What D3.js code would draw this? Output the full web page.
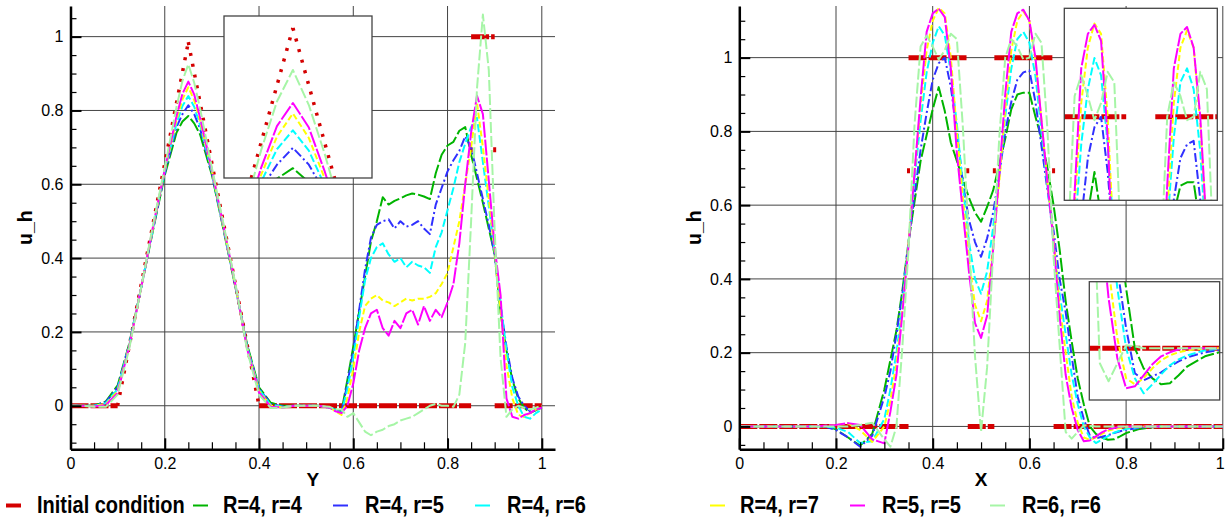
<!DOCTYPE html>
<html>
<head>
<meta charset="utf-8">
<script src="https://cdnjs.cloudflare.com/ajax/libs/d3/7.8.5/d3.min.js"></script>
<style>
  body { margin: 0; background: #fff; }
  svg { display: block; font-family: "Liberation Sans", Arial, sans-serif; }
</style>
</head>
<body>
<svg width="1226" height="523"></svg>
<script>
const svg = d3.select("svg");

// ---------- data ----------
const names = ["Initial condition", "R=4, r=4", "R=4, r=5", "R=4, r=6", "R=4, r=7", "R=5, r=5", "R=6, r=6"];
const colors = ["#d40000", "#00b400", "#3030ff", "#00ffff", "#ffff00", "#ff00ff", "#a6f5a6"];
const dashes = [null, "14 3", "9 3 2 3", "8 3", "6 3", "16 2", "11 3"];

const xTicks = [0, 0.2, 0.4, 0.6, 0.8, 1];
const yTicks = [0, 0.2, 0.4, 0.6, 0.8, 1];

// left panel (Y)
const leftX = [0, 0.025, 0.05, 0.075, 0.1, 0.125, 0.15, 0.175, 0.2, 0.225, 0.2375, 0.25, 0.2625, 0.275, 0.3, 0.325, 0.35, 0.375, 0.4, 0.425, 0.45, 0.475, 0.5, 0.525,
  0.55, 0.5625, 0.575, 0.5875, 0.6, 0.6125, 0.625, 0.6375, 0.65, 0.6625, 0.675, 0.6875, 0.7, 0.7125, 0.725, 0.7375, 0.75, 0.7625, 0.775, 0.7875, 0.8, 0.8125, 0.825, 0.8375, 0.85, 0.8625, 0.875, 0.8875, 0.9, 0.9125, 0.925, 0.9375, 0.95, 0.9625, 0.975, 0.9875, 1];
const leftR4r4 = [0, 0, 0, 0.012, 0.055, 0.17, 0.32, 0.475, 0.625, 0.74, 0.77, 0.785, 0.765, 0.735, 0.625, 0.475, 0.32, 0.165, 0.05, 0.008, 0, 0, 0, 0,
  -0.005, -0.01, -0.015, 0.07, 0.16, 0.255, 0.35, 0.445, 0.50, 0.565, 0.545, 0.555, 0.562, 0.57, 0.575, 0.572, 0.567, 0.56, 0.63, 0.68, 0.705, 0.715, 0.745, 0.755, 0.68, 0.615, 0.55, 0.48, 0.41, 0.25, 0.15, 0.07, 0.02, -0.005, -0.02, -0.012, -0.005];
const leftR4r5 = [0, 0, 0, 0.01, 0.05, 0.168, 0.32, 0.478, 0.63, 0.755, 0.79, 0.814, 0.79, 0.75, 0.63, 0.478, 0.322, 0.16, 0.047, 0.005, -0.002, 0, 0, 0,
  -0.005, -0.01, -0.018, 0.06, 0.15, 0.26, 0.37, 0.455, 0.49, 0.50, 0.505, 0.48, 0.50, 0.485, 0.49, 0.50, 0.48, 0.465, 0.545, 0.59, 0.635, 0.665, 0.69, 0.73, 0.70, 0.63, 0.56, 0.49, 0.41, 0.27, 0.16, 0.075, 0.025, 0.0, -0.015, -0.012, -0.005];
const leftR4r6 = [0, 0, 0, 0.007, 0.045, 0.166, 0.32, 0.48, 0.635, 0.765, 0.812, 0.839, 0.81, 0.76, 0.635, 0.48, 0.324, 0.158, 0.044, 0.002, -0.003, 0, 0, 0,
  -0.005, -0.012, -0.02, 0.045, 0.13, 0.24, 0.34, 0.40, 0.43, 0.44, 0.41, 0.39, 0.40, 0.375, 0.39, 0.38, 0.375, 0.36, 0.43, 0.47, 0.53, 0.59, 0.66, 0.71, 0.755, 0.78, 0.66, 0.54, 0.42, 0.28, 0.15, 0.05, 0.0, -0.03, -0.035, -0.02, -0.01];
const leftR4r7 = [0, 0, 0, 0.004, 0.04, 0.164, 0.32, 0.482, 0.637, 0.775, 0.83, 0.863, 0.828, 0.77, 0.637, 0.482, 0.325, 0.156, 0.04, 0, -0.004, 0, 0, 0,
  -0.005, -0.015, -0.025, 0.02, 0.10, 0.20, 0.27, 0.29, 0.30, 0.285, 0.28, 0.27, 0.28, 0.29, 0.285, 0.29, 0.29, 0.295, 0.305, 0.33, 0.36, 0.43, 0.50, 0.60, 0.70, 0.82, 0.70, 0.56, 0.42, 0.26, 0.11, 0.02, -0.025, -0.03, -0.02, -0.01, -0.005];
const leftR5r5 = [0, 0, -0.002, 0.002, 0.035, 0.162, 0.32, 0.485, 0.64, 0.785, 0.845, 0.878, 0.843, 0.78, 0.64, 0.485, 0.327, 0.153, 0.036, -0.003, -0.005, 0, 0, 0,
  -0.005, -0.015, -0.02, 0.0, 0.06, 0.15, 0.21, 0.25, 0.26, 0.21, 0.19, 0.23, 0.21, 0.25, 0.26, 0.22, 0.27, 0.23, 0.26, 0.24, 0.28, 0.33, 0.44, 0.60, 0.74, 0.84, 0.79, 0.61, 0.43, 0.30, 0.02, -0.03, -0.035, -0.025, -0.02, -0.01, -0.005];
const leftR6r6 = [0, 0, -0.003, -0.003, 0.03, 0.157, 0.32, 0.49, 0.645, 0.81, 0.88, 0.925, 0.875, 0.805, 0.645, 0.49, 0.33, 0.148, 0.03, -0.006, -0.005, 0, 0, 0,
  -0.003, -0.01, -0.01, -0.03, -0.02, -0.045, -0.07, -0.08, -0.07, -0.065, -0.055, -0.05, -0.04, -0.035, -0.03, -0.02, -0.01, 0.0, 0.005, 0.0, 0.0, -0.003, 0.03, 0.17, 0.50, 0.86, 1.06, 0.91, 0.475, 0.13, -0.03, -0.01, 0.0, -0.005, -0.01, -0.005, 0];
const leftInitX = [0, 0.1, 0.25, 0.4, 0.85, 0.85, 0.9, 0.9, 1];
const leftInitY = [0, 0, 0.985, 0, 0, 1, 1, 0, 0];

// right panel (X)
const rightX = [0, 0.025, 0.05, 0.075, 0.1, 0.125, 0.15, 0.175, 0.2, 0.225, 0.25, 0.275, 0.3,
  0.3125, 0.325, 0.3375, 0.35, 0.3625, 0.375, 0.3875, 0.4, 0.4125, 0.425, 0.4375, 0.45, 0.4625, 0.475, 0.4875, 0.5, 0.5125, 0.525, 0.5375, 0.55, 0.5625, 0.575, 0.5875, 0.6, 0.6125, 0.625, 0.6375, 0.65, 0.6625, 0.675, 0.6875, 0.7, 0.7125, 0.725, 0.7375, 0.75, 0.7625, 0.775, 0.7875, 0.8,
  0.825, 0.85, 0.875, 0.9, 0.925, 0.95, 0.975, 1];
const rightR4r4 = [0, 0, 0, 0, 0, 0, 0, 0.002, -0.008, -0.03, -0.052, -0.02, 0.10,
  0.18, 0.26, 0.37, 0.50, 0.61, 0.72, 0.79, 0.86, 0.92, 0.855, 0.77, 0.72, 0.67, 0.62, 0.58, 0.555, 0.595, 0.64, 0.71, 0.78, 0.86, 0.90, 0.905, 0.905, 0.84, 0.78, 0.70, 0.60, 0.48, 0.34, 0.23, 0.13, 0.06, 0.0, -0.02, -0.03, -0.036, -0.035, -0.027, -0.018,
  -0.008, -0.003, 0, 0, 0, 0, 0, 0];
const rightR4r5 = [0, 0, 0, 0, 0, 0, 0, 0.001, -0.01, -0.03, -0.055, -0.025, 0.08,
  0.15, 0.25, 0.36, 0.50, 0.63, 0.75, 0.85, 0.94, 0.985, 1.0, 0.92, 0.80, 0.66, 0.56, 0.50, 0.46, 0.51, 0.58, 0.68, 0.80, 0.88, 0.94, 0.96, 0.965, 0.88, 0.76, 0.64, 0.53, 0.40, 0.31, 0.19, 0.08, 0.02, -0.025, -0.032, -0.028, -0.024, -0.018, -0.013, -0.009,
  -0.004, -0.001, 0, 0, 0, 0, 0, 0];
const rightR4r6 = [0, 0, 0, 0, 0, 0, 0, 0, -0.003, -0.015, -0.045, -0.04, 0.02,
  0.10, 0.20, 0.33, 0.50, 0.67, 0.83, 0.96, 1.04, 1.085, 1.06, 0.96, 0.82, 0.65, 0.50, 0.40, 0.36, 0.42, 0.54, 0.68, 0.84, 0.97, 1.05, 1.07, 1.04, 0.95, 0.80, 0.65, 0.50, 0.36, 0.25, 0.14, 0.06, 0.0, -0.03, -0.045, -0.036, -0.026, -0.017, -0.011, -0.007,
  -0.002, 0, 0, 0, 0, 0, 0, 0];
const rightR4r7 = [0, 0, 0, 0, 0, 0, 0, 0.001, 0.004, 0.008, -0.01, -0.042, 0.0,
  0.07, 0.17, 0.32, 0.50, 0.69, 0.87, 1.02, 1.10, 1.135, 1.12, 1.0, 0.80, 0.62, 0.45, 0.33, 0.285, 0.34, 0.49, 0.66, 0.86, 1.02, 1.10, 1.125, 1.10, 0.99, 0.83, 0.66, 0.51, 0.33, 0.20, 0.08, 0.01, -0.03, -0.036, -0.03, -0.02, -0.012, -0.007, -0.004, -0.002,
  0, 0, 0, 0, 0, 0, 0, 0];
const rightR5r5 = [0, 0, 0, 0, 0, 0, 0, 0.002, 0.004, 0.009, 0.004, -0.035, -0.046,
  0.04, 0.14, 0.31, 0.49, 0.69, 0.89, 1.07, 1.12, 1.133, 1.11, 0.97, 0.74, 0.58, 0.42, 0.28, 0.24, 0.30, 0.48, 0.68, 0.90, 1.07, 1.12, 1.13, 1.10, 1.0, 0.83, 0.66, 0.50, 0.30, 0.14, 0.05, -0.01, -0.04, -0.038, -0.027, -0.016, -0.008, -0.004, -0.001, 0,
  0, 0, 0, 0, 0, 0, 0, 0];
const rightR6r6 = [0, 0, 0, 0, 0, 0, 0, 0, 0, 0, 0.004, 0.01, -0.035,
  -0.055, 0.0, 0.22, 0.48, 0.82, 1.03, 1.06, 1.03, 0.995, 1.02, 1.065, 1.05, 0.81, 0.50, 0.19, -0.015, 0.16, 0.47, 0.78, 1.0, 1.05, 1.03, 0.995, 1.0, 1.065, 1.04, 0.80, 0.46, 0.22, -0.015, -0.033, -0.015, 0.003, 0.002, 0, 0, 0, 0, 0, 0,
  0, 0, 0, 0, 0, 0, 0, 0];
const rightInitX = [0, 0.35, 0.35, 0.4725, 0.4725, 0.5275, 0.5275, 0.65, 0.65, 1];
const rightInitY = [0, 0, 1, 1, 0, 0, 1, 1, 0, 0];

// ---------- helpers ----------
let clipCount = 0;
const defs = svg.append("defs");
function clipRect(x0, y0, w, h) {
  const id = "clip" + (clipCount++);
  defs.append("clipPath").attr("id", id)
    .append("rect").attr("x", x0).attr("y", y0).attr("width", w).attr("height", h);
  return `url(#${id})`;
}

function drawInit(g, xs, ys, x, y) {
  for (let i = 0; i < xs.length - 1; i++) {
    const x1 = x(xs[i]), y1 = y(ys[i]), x2 = x(xs[i + 1]), y2 = y(ys[i + 1]);
    const seg = g.append("line")
      .attr("x1", x1).attr("y1", y1).attr("x2", x2).attr("y2", y2)
      .attr("stroke", colors[0]);
    if (ys[i] === ys[i + 1]) {
      seg.attr("stroke-width", 5).attr("stroke-dasharray", "18 2");
    } else if (xs[i] === xs[i + 1]) {
      // steep jump: a single short dash
      const len = Math.abs(y2 - y1);
      const top = Math.min(y1, y2), bot = Math.max(y1, y2);
      seg.attr("y1", top).attr("y2", bot)
        .attr("stroke-width", 3)
        .attr("stroke-dasharray", `0 ${len * 0.3} 5 ${len}`);
    } else {
      seg.attr("stroke-width", 3.5).attr("stroke-dasharray", "3 8");
    }
  }
}

function drawSeries(g, xs, series, x, y) {
  const line = d3.line().x(d => x(d[0])).y(d => y(d[1]));
  series.forEach((vals, i) => {
    g.append("path")
      .datum(xs.map((v, k) => [v, vals[k]]))
      .attr("d", line)
      .attr("fill", "none")
      .attr("stroke", colors[i + 1])
      .attr("stroke-width", 2)
      .attr("stroke-linejoin", "round")
      .attr("stroke-dasharray", dashes[i + 1]);
  });
}

function drawPanel(p) {
  const { x, y } = p;
  const [xa, xb] = x.range();
  const [ya, yb] = y.range();
  const g = svg.append("g");

  // grid
  g.append("g").selectAll("line").data(xTicks.slice(1)).join("line")
    .attr("x1", d => x(d)).attr("x2", d => x(d)).attr("y1", ya).attr("y2", yb)
    .attr("stroke", "#444").attr("stroke-width", 1);
  g.append("g").selectAll("line").data(yTicks).join("line")
    .attr("x1", xa).attr("x2", xb).attr("y1", d => y(d)).attr("y2", d => y(d))
    .attr("stroke", "#444").attr("stroke-width", 1);

  // curves
  const lg = g.append("g").attr("clip-path", clipRect(xa, yb, xb - xa, ya - yb));
  drawInit(lg, p.initX, p.initY, x, y);
  drawSeries(lg, p.xs, p.series, x, y);

  // axes
  const fmt = d => String(d);
  const xMinor = d3.range(0, 1.0001, 0.05).filter(v => Math.abs(v * 5 - Math.round(v * 5)) > 1e-6);
  const yMinor = d3.range(-0.15, 1.2, 0.05).map(v => +v.toFixed(2))
    .filter(v => v >= y.domain()[0] && v <= y.domain()[1] && Math.abs(v * 5 - Math.round(v * 5)) > 1e-6);

  const gx = g.append("g").attr("transform", `translate(0,${ya})`);
  gx.call(d3.axisBottom(x).tickValues(xTicks).tickFormat(fmt).tickSizeInner(-11).tickSizeOuter(0).tickPadding(4));
  gx.append("g").call(d3.axisBottom(x).tickValues(xMinor).tickFormat("").tickSizeInner(-7).tickSizeOuter(0))
    .select(".domain").remove();
  const gy = g.append("g").attr("transform", `translate(${xa},0)`);
  gy.call(d3.axisLeft(y).tickValues(yTicks).tickFormat(fmt).tickSizeInner(-11).tickSizeOuter(0).tickPadding(7));
  gy.append("g").call(d3.axisLeft(y).tickValues(yMinor).tickFormat("").tickSizeInner(-6).tickSizeOuter(0))
    .select(".domain").remove();

  [gx, gy].forEach(a => {
    a.selectAll(".domain").attr("stroke", "#000").attr("stroke-width", 2.5);
    a.selectAll(".tick line").attr("stroke", "#000").attr("stroke-width", 1.2);
    a.selectAll(".tick text").attr("font-size", 16).attr("fill", "#000")
      .attr("font-family", "Liberation Sans, Arial, sans-serif");
  });
  gx.selectAll(".tick text").attr("dy", "0.71em").attr("y", 8);
  gx.selectAll(":scope > .tick line").attr("stroke-width", 2);
  gy.selectAll(":scope > .tick line").attr("stroke-width", 2);
  if (p.lastLabelShift) {
    gx.selectAll(":scope > .tick text").filter(d => d === 1).attr("dx", p.lastLabelShift);
  }

  // insets
  p.insets.forEach(ins => {
    const [bx, by, bw, bh] = ins.box;
    const xi = d3.scaleLinear().domain(ins.xd).range([bx, bx + bw]);
    const yi = d3.scaleLinear().domain(ins.yd).range([by + bh, by]);
    const gi = g.append("g");
    gi.append("rect").attr("x", bx).attr("y", by).attr("width", bw).attr("height", bh).attr("fill", "#fff");
    const gc = gi.append("g").attr("clip-path", clipRect(bx, by, bw, bh));
    drawInit(gc, p.initX, p.initY, xi, yi);
    drawSeries(gc, p.xs, p.series, xi, yi);
    gi.append("rect").attr("x", bx).attr("y", by).attr("width", bw).attr("height", bh)
      .attr("fill", "none").attr("stroke", "#444").attr("stroke-width", 1.3);
  });

  // titles
  g.append("text").attr("x", (xa + xb) / 2).attr("y", 485.5)
    .attr("text-anchor", "middle").attr("font-weight", "bold").attr("font-size", 19)
    .text(p.xTitle);
  g.append("text")
    .attr("transform", `translate(${p.yTitleX},${(ya + yb) / 2}) rotate(-90)`)
    .attr("text-anchor", "middle").attr("font-weight", "bold").attr("font-size", 19.5)
    .text("u_h");
}

// ---------- panels ----------
drawPanel({
  x: d3.scaleLinear().domain([0, 1.028]).range([70.5, 555]),
  y: d3.scaleLinear().domain([-0.118, 1.083]).range([449.3, 6]),
  xs: leftX,
  series: [leftR4r4, leftR4r5, leftR4r6, leftR4r7, leftR5r5, leftR6r6],
  initX: leftInitX, initY: leftInitY,
  xTitle: "Y", yTitleX: 32,
  insets: [{ box: [224, 16, 148, 162], xd: [0.196, 0.312], yd: [0.771, 1.002] }]
});

drawPanel({
  x: d3.scaleLinear().domain([0, 1]).range([739.3, 1222.8]),
  y: d3.scaleLinear().domain([-0.062, 1.14]).range([449.3, 6]),
  xs: rightX,
  series: [rightR4r4, rightR4r5, rightR4r6, rightR4r7, rightR5r5, rightR6r6],
  initX: rightInitX, initY: rightInitY,
  xTitle: "X", yTitleX: 700.5,
  lastLabelShift: -3,
  insets: [
    { box: [1064.3, 8.3, 153, 192], xd: [0.3555, 0.6447], yd: [0.879, 1.157] },
    { box: [1089.3, 281.7, 130.4, 118.3], xd: [0.66, 0.846], yd: [-0.0517, 0.0666] }
  ]
});

// ---------- legend ----------
const legendLineX = [6, 193, 333, 475, 710, 850, 990];
const legendTextX = [37, 223, 365, 507, 740, 882, 1022];
const legend = svg.append("g");
names.forEach((n, i) => {
  legend.append("line")
    .attr("x1", legendLineX[i]).attr("x2", legendLineX[i] + 15)
    .attr("y1", 505.5).attr("y2", 505.5)
    .attr("stroke", colors[i]).attr("stroke-width", i === 0 ? 4 : 2);
  legend.append("text")
    .attr("transform", `translate(${legendTextX[i]},513) scale(1,1.2)`)
    .attr("font-weight", "bold").attr("font-size", 20)
    .text(n);
});
</script>
</body>
</html>
